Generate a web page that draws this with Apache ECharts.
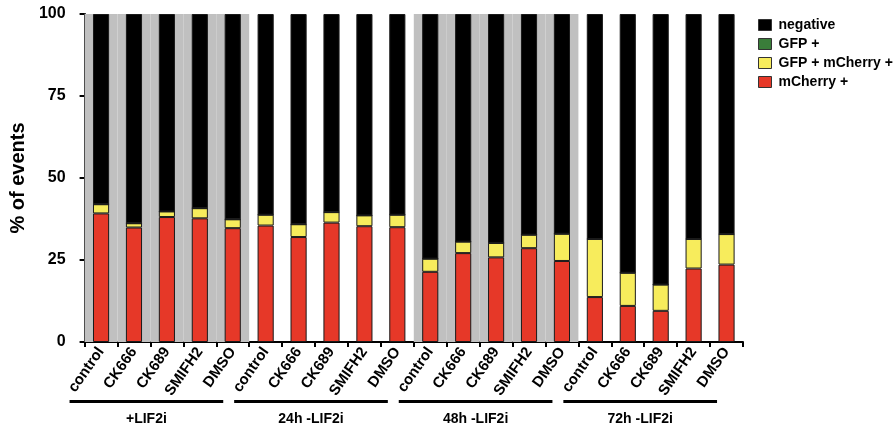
<!DOCTYPE html>
<html><head><meta charset="utf-8">
<script src="https://cdn.jsdelivr.net/npm/echarts@6/dist/echarts.min.js"></script>
<style>html,body{margin:0;padding:0;background:#fff}#c{width:895px;height:433px}</style>
</head><body><div id="c"></div>
<script>
// ---- data ----
var treatments = ['control', 'CK666', 'CK689', 'SMIFH2', 'DMSO'];
var groups = ['+LIF2i', '24h -LIF2i', '48h -LIF2i', '72h -LIF2i'];
var shadedGroups = [true, false, true, false];
var yTicks = [0, 25, 50, 75, 100];
// mCherry+ (%) per bar
var mCherry = [39.2, 34.9, 38.1, 37.7, 34.7,
               35.5, 32.0, 36.4, 35.3, 35.0,
               21.4, 27.1, 25.8, 28.6, 24.7,
               13.7, 11.0, 9.5, 22.4, 23.6];
// GFP+ mCherry+ (%) per bar
var double = [2.8, 1.3, 1.7, 3.1, 2.7,
              3.3, 3.9, 3.2, 3.3, 3.8,
              4.0, 3.5, 4.4, 4.1, 8.3,
              17.7, 10.1, 8.0, 9.0, 9.3];
// GFP+ (%) per bar
var gfp = [0, 0, 0, 0, 0, 0, 0, 0, 0, 0, 0, 0, 0, 0, 0, 0, 0, 0, 0, 0];
// negative (%) per bar
var negative = [58.0, 63.8, 60.2, 59.2, 62.6,
                61.2, 64.1, 60.4, 61.4, 61.2,
                74.6, 69.4, 69.8, 67.3, 67.0,
                68.6, 78.9, 82.5, 68.6, 67.1];

// ---- build ----
var cats = [];
var bg = [];
groups.forEach(function (g, gi) {
  treatments.forEach(function (t) {
    cats.push(g + '|' + t);
    bg.push(shadedGroups[gi] ? 100 : 0);
  });
});
var FONT = "'Liberation Sans', Arial, Helvetica, sans-serif";
var chart = echarts.init(document.getElementById('c'), null, {renderer: 'canvas'});
function barSeries(name, data, color) {
  return {
    name: name, type: 'bar', stack: 'a', data: data, barWidth: '49%',
    xAxisIndex: 0, yAxisIndex: 0,
    itemStyle: {color: color, borderColor: '#1a1a1a', borderWidth: 1},
    emphasis: {disabled: true}, z: 3
  };
}
var option = {
  animation: false,
  grid: {left: 84, right: 152, top: 14, bottom: 91, containLabel: false},
  legend: {
    orient: 'vertical', left: 753, top: 13, itemWidth: 13, itemHeight: 11, itemGap: 5,
    icon: 'rect',
    data: ['negative', 'GFP +', 'GFP + mCherry +', 'mCherry +'],
    textStyle: {fontFamily: FONT, fontWeight: 'bold', fontSize: 14, color: '#000', padding: [0, 0, 0, 2]},
    itemStyle: {borderColor: '#333', borderWidth: 1}
  },
  xAxis: [{
    type: 'category', data: cats,
    axisLine: {lineStyle: {color: '#000', width: 2}},
    axisTick: {show: true, length: 5, lineStyle: {color: '#000', width: 2}},
    axisLabel: {
      rotate: 55, interval: 0, margin: 7,
      fontFamily: FONT, fontWeight: 'bold', fontSize: 15, color: '#000',
      formatter: function (v) { return v.split('|')[1]; }
    }
  }, {
    type: 'category', data: cats, show: false
  }],
  yAxis: {
    type: 'value', min: 0, max: 100, interval: 25,
    name: '% of events', nameLocation: 'middle', nameGap: 52,
    nameTextStyle: {fontFamily: FONT, fontWeight: 'bold', fontSize: 20, color: '#000'},
    axisLine: {show: true, lineStyle: {color: '#000', width: 2}},
    axisTick: {show: true, length: 5, lineStyle: {color: '#000', width: 2}},
    splitLine: {show: false},
    axisLabel: {margin: 19, fontFamily: FONT, fontWeight: 'bold', fontSize: 16, color: '#000',
      formatter: function (v) { return yTicks.indexOf(v) >= 0 ? String(v) : ''; }}
  },
  series: [
    {name: 'bg', type: 'bar', data: bg, xAxisIndex: 1, yAxisIndex: 0, barWidth: '100%',
     itemStyle: {color: '#c0c0c0'}, silent: true, z: 1, legendHoverLink: false},
    barSeries('mCherry +', mCherry, '#e63828'),
    barSeries('GFP + mCherry +', double, '#f7ec5c'),
    barSeries('GFP +', gfp, '#3a7d3a'),
    barSeries('negative', negative, '#000000')
  ]
};
chart.setOption(option);

// group underline + labels, positioned from axis coordinates
var gr = [];
groups.forEach(function (g, gi) {
  var first = chart.convertToPixel({xAxisIndex: 0}, cats[gi * 5]);
  var last = chart.convertToPixel({xAxisIndex: 0}, cats[gi * 5 + 4]);
  var x1 = first - 31.5, x2 = last - 9.5;
  gr.push({type: 'line', shape: {x1: x1, y1: 401.5, x2: x2, y2: 401.5},
           style: {stroke: '#000', lineWidth: 3}, silent: true});
  gr.push({type: 'text', x: (x1 + x2) / 2, y: 419,
           style: {text: g, fontFamily: FONT, fontWeight: 'bold', fontSize: 14, fill: '#000',
                   align: 'center', verticalAlign: 'middle'}, silent: true});
});
chart.setOption({graphic: gr});
</script></body></html>
